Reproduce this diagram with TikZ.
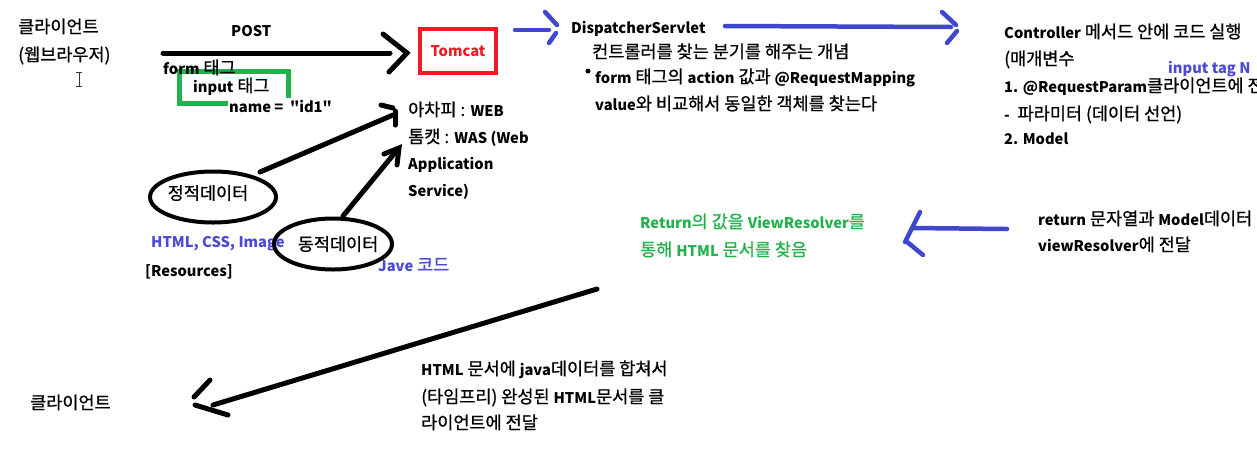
\documentclass[tikz,border=0pt]{standalone}
\usepackage{fontspec}
\usetikzlibrary{shapes.geometric}
\setmainfont{Noto Sans CJK KR}[RawFeature={embolden=0.8}]
\newfontfamily\latf{Noto Sans CJK KR}[Scale=0.84]
\newcommand\lb[1]{{\latf\bfseries #1}}
\definecolor{pblue}{RGB}{63,72,204}
\definecolor{tblue}{RGB}{74,74,214}
\definecolor{pred}{RGB}{237,28,36}
\definecolor{pgreen}{RGB}{34,177,76}
\tikzset{
  txt/.style={anchor=west, inner sep=0pt, font=\fontsize{17.5}{20}\selectfont, text height=14pt, text depth=2pt},
  blk/.style={line width=5pt, line cap=round, black},
  blu/.style={line width=4.5pt, line cap=round, pblue},
  ell/.style={draw, line width=4pt, ellipse, inner sep=0pt},
}
\begin{document}
\begin{tikzpicture}[x=1pt,y=-1pt]
\useasboundingbox (0,0) rectangle (1257,472);
\clip (0,0) rectangle (1257,472);
\fill[white] (0,0) rectangle (1257,472);

% client (browser)
\node[txt] (cl1) at (18,27) {클라이언트};
\node[txt] (cl2) at (18,55) {(웹브라우저)};
% cursor
\coordinate (cur) at (79,79);
\draw[line width=1pt, black!80] ([yshift=-7pt]cur) -- ([yshift=7pt]cur)
  ([shift={(-3,-7)}]cur) -- ([shift={(3,-7)}]cur)
  ([shift={(-3,7)}]cur) -- ([shift={(3,7)}]cur);

% POST arrow
\node[txt] (post) at (231,30) {\lb{POST}};
\coordinate (a1s) at (163,53);
\coordinate (a1e) at (390,53);
\coordinate (a1t) at (407,53);
\draw[blk] (a1s) -- (a1e);
\draw[blk] (383,34) -- (a1t) -- (389,72);

\draw[pgreen, line width=5pt] (179.5,71.5) rectangle (288.5,103.5);
\node[txt] (form) at (163,68) {\lb{form} 태그};
\node[txt] (input) at (193,86) {\lb{input} 태그};
\node[txt, fill=white, inner xsep=1pt] (name) at (228,106) {\lb{name = \ "id1"}};

% Tomcat
\node[draw=pred, line width=4pt, minimum width=76pt, minimum height=44pt, inner sep=0pt,
  text=pred, font=\fontsize{17.5}{20}\selectfont] (tomcat) at (458,51) {\lb{Tomcat}};

% blue arrow to DispatcherServlet
\coordinate (a2s) at (515,30);
\coordinate (a2e) at (549,30);
\draw[blu] (a2s) -- (a2e);
\draw[blu] (545,12) -- (557,25);
\draw[blu] (556,33) -- (549,43);

\node[txt] (disp) at (571,27) {\lb{DispatcherServlet}};
\node[txt] (d1) at (592,52) {컨트롤러를 찾는 분기를 해주는 개념};
\fill (588,71) circle (2.5pt);
\node[txt] (d2) at (595,77) {\lb{form} 태그의 \lb{action} 값과 \lb{@RequestMapping}};
\node[txt] (d3) at (595,104) {\lb{value}와 비교해서 동일한 객체를 찾는다};

% long blue arrow
\coordinate (a3s) at (725,26);
\coordinate (a3e) at (951,27);
\draw[blu] (a3s) -- (a3e);
\draw[blu] (942,12) -- (956,25);
\draw[blu] (957,31) -- (947,43);

% Controller block
\node[txt, text=tblue] (itag) at (1168,67) {\lb{input tag N}};
\node[txt] (c1) at (1004,32) {\lb{Controller} 메서드 안에 코드 실행};
\node[txt] (c2) at (1004,59) {(매개변수};
\node[txt, fill=white, inner ysep=1pt] (c3) at (1004,86) {\lb{1. @RequestParam}클라이언트에 전};
\node[txt] (c4) at (1004,114) {\lb{-} \ 파라미터 (데이터 선언)};
\node[txt] (c5) at (1004,138) {\lb{2. Model}};

% WEB / WAS
\node[txt] (w1) at (408,110) {아차피 : \lb{WEB}};
\node[txt] (w2) at (408,137) {톰캣 : \lb{WAS (Web}};
\node[txt] (w3) at (408,163) {\lb{Application}};
\node[txt] (w4) at (408,190) {\lb{Service)}};

% static / dynamic data
\node[txt, text=tblue] (hcss) at (151,241) {\lb{HTML, CSS, Image}};
\node[txt] (res) at (145,270) {\lb{[Resources]}};
\node[txt, text=tblue] (jave) at (378,265) {\lb{Jave} 코드};
\node[ell, minimum width=126pt, minimum height=51pt] (stat) at (213,197) {};
\node[font=\fontsize{17.5}{20}\selectfont, inner sep=0pt] at (208,193) {정적데이터};
\node[ell, minimum width=118pt, minimum height=51pt] (dyn) at (333,244) {};
\node[font=\fontsize{17.5}{20}\selectfont, inner sep=0pt] at (338,244) {동적데이터};

\coordinate (a4s) at (260,172);
\coordinate (a4e) at (393,115);
\draw[blk] (a4s) -- (a4e);
\draw[blk] (381,105) -- (393,108);
\draw[blk] (395,111) -- (395,125);

\coordinate (a5s) at (343,216);
\coordinate (a5e) at (398,149);
\draw[blk] (a5s) -- (a5e);
\draw[blk] (384,154) -- (399,148) -- (397,165);

% return / view resolver
\node[txt, text=pgreen] (g1) at (640,222) {\lb{Return}의 값을 \lb{ViewResolver}를};
\node[txt, text=pgreen] (g2) at (640,250) {통해 \lb{HTML} 문서를 찾음};
\node[txt] (r1) at (1038,219) {\lb{return} 문자열과 \lb{Model}데이터};
\node[txt] (r2) at (1038,245) {\lb{viewResolver}에 전달};

\coordinate (a6s) at (1007,229);
\coordinate (a6e) at (912,228);
\draw[blu] (a6s) -- (a6e);
\draw[blu] (920,212) -- (905,242);
\draw[blu] (906,241) -- (923,255);

% back to client
\coordinate (a7s) at (597,289);
\coordinate (a7e) at (213,405);
\draw[blk] (a7s) -- (a7e);
\draw[blk] (210,380) -- (194,397);
\draw[blk] (195,405) -- (228,415);

\node[txt] (b1) at (421,369) {\lb{HTML} 문서에 \lb{java}데이터를 합쳐서};
\node[txt] (b2) at (421,397) {(타임프리) 완성된 \lb{HTML}문서를 클};
\node[txt] (b3) at (421,423) {라이언트에 전달};
\node[txt] (cl3) at (30,403) {클라이언트};
\end{tikzpicture}
\end{document}
